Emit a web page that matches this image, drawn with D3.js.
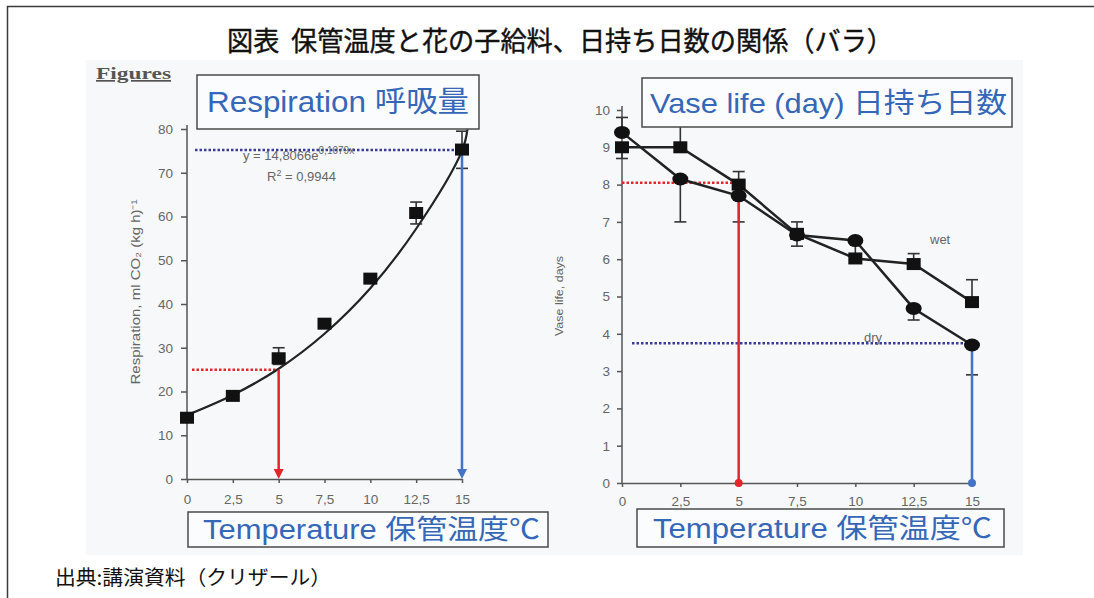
<!DOCTYPE html>
<html><head><meta charset="utf-8">
<script src="https://cdn.jsdelivr.net/npm/d3@7"></script>
<style>
html,body{margin:0;padding:0;background:#fff;}
svg{display:block;}
</style></head>
<body>
<svg id="c" width="1094" height="598"></svg>
<script>
// ---- data ----
const pageTitle = "図表\u00A0\u00A0保管温度と花の子給料、日持ち日数の関係（バラ）";
const sourceText = "出典:講演資料（クリザール）";
const xTicks = [0, 2.5, 5, 7.5, 10, 12.5, 15];
const respTicks = [0, 10, 20, 30, 40, 50, 60, 70, 80];
const vaseTicks = [0, 1, 2, 3, 4, 5, 6, 7, 8, 9, 10];

// Respiration (left)
const respX = [0, 2.5, 5, 7.5, 10, 12.5, 15];
const respY = [14, 19, 27.6, 35.5, 45.8, 60.8, 75.3];
const respErrLo = [null, null, 26.2, null, null, 58.3, 71];
const respErrHi = [null, null, 30.0, null, null, 63.3, 79.5];
// fitted trend line
const fitX = [0, 2.5, 5, 7.5, 10, 12.5, 15, 15.3];
const fitY = [14.6, 19.2, 25.2, 33.2, 43.6, 57.2, 75.0, 80];
const respRefLow = {x: 5, y: 25};
const respRefHigh = {x: 15, y: 75.2};

// Vase life (right)
const wetX = [0, 2.5, 5, 7.5, 10, 12.5, 15];
const wetY = [9, 9, 8, 6.68, 6.02, 5.87, 4.85];
const wetErrLo = [8.7, null, null, 6.35, null, null, null];
const wetErrHi = [null, 9.65, 8.35, 7.0, null, 6.15, 5.45];
const dryX = [0, 2.5, 5, 7.5, 10, 12.5, 15];
const dryY = [9.4, 8.15, 7.7, 6.65, 6.5, 4.68, 3.7];
const dryErrLo = [null, 7.0, 7.0, null, 6.1, 4.37, 2.9];
const dryErrHi = [9.8, null, null, null, null, null, null];
const vaseRefLow = {x: 5, y: 8.05};
const vaseRefHigh = {x: 15, y: 3.75};

// ---- drawing ----
const svg = d3.select("#c");
const fmt = d => String(d).replace(".", ",");
const LAT = "'Liberation Sans', Arial, sans-serif";
const JP = "'Liberation Sans', 'Noto Sans CJK JP', sans-serif";
const BLUE_T = "#3567b8", RED = "#e3262b", BLUE = "#4472c4", NAVY = "#3b3b9c";

// outer frame
svg.append("rect").attr("x", 7.5).attr("y", 6.5).attr("width", 1200).attr("height", 700)
  .attr("fill", "none").attr("stroke", "#3a3a3a").attr("stroke-width", 1.5);
// embedded picture background
svg.append("rect").attr("x", 86).attr("y", 60).attr("width", 937).attr("height", 495).attr("fill", "#f7f8f9");

// title
svg.append("text").attr("x", 227).attr("y", 51).text(pageTitle)
  .attr("font-family", "'Noto Sans CJK JP', sans-serif").attr("font-size", 27).attr("font-weight", 400)
  .attr("fill", "#111").attr("stroke", "#111").attr("stroke-width", 0.4)
  .attr("textLength", 666).attr("lengthAdjust", "spacingAndGlyphs");
// source
svg.append("text").attr("x", 55).attr("y", 585).text(sourceText)
  .attr("font-family", "'Noto Sans CJK JP', sans-serif").attr("font-size", 20)
  .attr("fill", "#111").attr("textLength", 276).attr("lengthAdjust", "spacingAndGlyphs");
// "Figures"
svg.append("text").attr("x", 96).attr("y", 79).text("Figures")
  .attr("font-family", "'Liberation Serif', serif").attr("font-size", 17).attr("font-weight", "bold")
  .attr("fill", "#555").attr("text-decoration", "underline")
  .attr("textLength", 75).attr("lengthAdjust", "spacingAndGlyphs");

function box(x, y, w, h, label, fs, tx, tl) {
  svg.append("rect").attr("x", x).attr("y", y).attr("width", w).attr("height", h)
    .attr("fill", "#fbfcfd").attr("stroke", "#4a4a4a").attr("stroke-width", 1.5);
  svg.append("text").attr("x", tx).attr("y", y + h / 2).attr("dy", "0.36em").text(label)
    .attr("font-family", JP).attr("font-size", fs).attr("fill", BLUE_T)
    .attr("textLength", tl).attr("lengthAdjust", "spacingAndGlyphs");
}

function styleAxis(g) {
  g.selectAll("path,line").attr("stroke", "#555").attr("stroke-width", 1.5);
  g.selectAll("text").attr("fill", "#666").attr("font-family", LAT).attr("font-size", 13.5);
}

function errBars(g, xs, lo, hi, ys, xS, yS) {
  xs.forEach((x, i) => {
    const segs = [];
    if (lo[i] != null) segs.push(lo[i]);
    if (hi[i] != null) segs.push(hi[i]);
    segs.forEach(v => {
      g.append("line").attr("x1", xS(x)).attr("x2", xS(x)).attr("y1", yS(ys[i])).attr("y2", yS(v))
        .attr("stroke", "#333").attr("stroke-width", 1.6);
      g.append("line").attr("x1", xS(x) - 6).attr("x2", xS(x) + 6).attr("y1", yS(v)).attr("y2", yS(v))
        .attr("stroke", "#333").attr("stroke-width", 1.6);
    });
  });
}

// ===== LEFT: Respiration =====
const xL = d3.scaleLinear([0, 15], [187, 462]);
const yL = d3.scaleLinear([0, 80], [479, 129]);
const gL = svg.append("g");
box(197, 75, 282, 54, "Respiration  呼吸量", 29, 207, 262);

gL.append("g").attr("transform", "translate(187,0)")
  .call(d3.axisLeft(yL).tickValues(respTicks).tickSize(6).tickSizeOuter(0).tickPadding(8))
  .call(styleAxis).select(".domain").attr("d", `M0,${yL(0)}V${yL(80) - 4}`);
gL.append("g").attr("transform", `translate(0,${yL(0)})`)
  .call(d3.axisBottom(xL).tickValues(xTicks).tickFormat(fmt).tickSize(4).tickSizeOuter(0).tickPadding(11))
  .call(styleAxis);

gL.append("text").attr("transform", "translate(140,292) rotate(-90)").attr("text-anchor", "middle")
  .attr("font-family", LAT).attr("font-size", 12).attr("fill", "#666")
  .attr("textLength", 185).attr("lengthAdjust", "spacingAndGlyphs")
  .text("Respiration, ml CO₂ (kg h)⁻¹");

// reference lines
gL.append("line").attr("x1", xL(0) + 5).attr("x2", xL(respRefLow.x)).attr("y1", yL(respRefLow.y)).attr("y2", yL(respRefLow.y))
  .attr("stroke", RED).attr("stroke-width", 2.5).attr("stroke-dasharray", "2.5,2");
gL.append("line").attr("x1", xL(0) + 8).attr("x2", xL(respRefHigh.x) + 6).attr("y1", yL(respRefHigh.y)).attr("y2", yL(respRefHigh.y))
  .attr("stroke", NAVY).attr("stroke-width", 2.5).attr("stroke-dasharray", "2.5,2");

// equation
const eq = gL.append("text").attr("x", 243).attr("y", 160).attr("font-family", LAT).attr("font-size", 13).attr("fill", "#666");
eq.append("tspan").text("y = 14,8066e");
eq.append("tspan").attr("dy", -6).attr("font-size", 10).text("0,1079x");
const r2 = gL.append("text").attr("x", 267).attr("y", 181).attr("font-family", LAT).attr("font-size", 13).attr("fill", "#666");
r2.append("tspan").text("R");
r2.append("tspan").attr("dy", -5).attr("font-size", 9).text("2");
r2.append("tspan").attr("dy", 5).text(" = 0,9944");

// fit curve
const fitData = fitX.map((x, i) => [x, fitY[i]]);
gL.append("path").datum(fitData)
  .attr("d", d3.line().x(d => xL(d[0])).y(d => yL(d[1])).curve(d3.curveCatmullRom))
  .attr("fill", "none").attr("stroke", "#222").attr("stroke-width", 2.2);

errBars(gL, respX, respErrLo, respErrHi, respY, xL, yL);

// vertical arrows
function arrow(g, x, y0, y1, color, tri) {
  g.append("line").attr("x1", x).attr("x2", x).attr("y1", y0).attr("y2", tri ? y1 - 8 : y1)
    .attr("stroke", color).attr("stroke-width", 2.5);
  if (tri) {
    g.append("path").attr("d", `M${x - 5},${y1 - 10}L${x + 5},${y1 - 10}L${x},${y1}Z`).attr("fill", color);
  } else {
    g.append("circle").attr("cx", x).attr("cy", y1).attr("r", 4).attr("fill", color);
  }
}
arrow(gL, xL(respRefLow.x), yL(respRefLow.y), yL(0), RED, true);
arrow(gL, xL(respRefHigh.x), yL(respRefHigh.y), yL(0), BLUE, true);

// markers
gL.selectAll("rect.m").data(respX.map((x, i) => [x, respY[i]])).join("rect").attr("class", "m")
  .attr("x", d => xL(d[0]) - 7).attr("y", d => yL(d[1]) - 6).attr("width", 14).attr("height", 12).attr("fill", "#111");

box(188, 512, 360, 35, "Temperature 保管温度℃", 27, 203, 337);

// ===== RIGHT: Vase life =====
const xR = d3.scaleLinear([0, 15], [622, 972]);
const yR = d3.scaleLinear([0, 10], [483, 110]);
const gR = svg.append("g");

gR.append("g").attr("transform", "translate(622,0)")
  .call(d3.axisLeft(yR).tickValues(vaseTicks).tickSize(5).tickSizeOuter(0).tickPadding(7))
  .call(styleAxis).select(".domain").attr("d", `M0,${yR(0)}V${yR(10) - 4}`);
gR.append("g").attr("transform", `translate(0,${yR(0)})`)
  .call(d3.axisBottom(xR).tickValues(xTicks).tickFormat(fmt).tickSize(4).tickSizeOuter(0).tickPadding(9))
  .call(styleAxis);

gR.append("text").attr("transform", "translate(563,296) rotate(-90)").attr("text-anchor", "middle")
  .attr("font-family", LAT).attr("font-size", 11).attr("fill", "#666")
  .attr("textLength", 80).attr("lengthAdjust", "spacingAndGlyphs").text("Vase life, days");

gR.append("line").attr("x1", xR(0)).attr("x2", xR(vaseRefLow.x)).attr("y1", yR(vaseRefLow.y)).attr("y2", yR(vaseRefLow.y))
  .attr("stroke", RED).attr("stroke-width", 2.5).attr("stroke-dasharray", "2.5,2");
gR.append("line").attr("x1", xR(0) + 10).attr("x2", xR(vaseRefHigh.x)).attr("y1", yR(vaseRefHigh.y)).attr("y2", yR(vaseRefHigh.y))
  .attr("stroke", NAVY).attr("stroke-width", 2.5).attr("stroke-dasharray", "2.5,2");

errBars(gR, wetX, wetErrLo, wetErrHi, wetY, xR, yR);
errBars(gR, dryX, dryErrLo, dryErrHi, dryY, xR, yR);

const ln = d3.line().x(d => xR(d[0])).y(d => yR(d[1]));
const wetData = wetX.map((x, i) => [x, wetY[i]]);
const dryData = dryX.map((x, i) => [x, dryY[i]]);
gR.append("path").datum(wetData).attr("d", ln).attr("fill", "none").attr("stroke", "#222").attr("stroke-width", 2.5);
gR.append("path").datum(dryData).attr("d", ln).attr("fill", "none").attr("stroke", "#222").attr("stroke-width", 2.5);

arrow(gR, xR(vaseRefLow.x), yR(vaseRefLow.y), yR(0), RED, false);
arrow(gR, xR(vaseRefHigh.x), yR(vaseRefHigh.y), yR(0), BLUE, false);

gR.selectAll("rect.w").data(wetData).join("rect").attr("class", "w")
  .attr("x", d => xR(d[0]) - 7).attr("y", d => yR(d[1]) - 6).attr("width", 14).attr("height", 12).attr("fill", "#111");
gR.selectAll("ellipse.d").data(dryData).join("ellipse").attr("class", "d")
  .attr("cx", d => xR(d[0])).attr("cy", d => yR(d[1])).attr("rx", 8).attr("ry", 6.5).attr("fill", "#111");

gR.append("text").attr("x", 930).attr("y", 244).attr("font-family", LAT).attr("font-size", 13).attr("fill", "#666").text("wet");
gR.append("text").attr("x", 864).attr("y", 342).attr("font-family", LAT).attr("font-size", 13).attr("fill", "#666").text("dry");

box(642, 78, 370, 49, "Vase life (day)  日持ち日数", 28, 650, 357);
box(637, 509, 367, 38, "Temperature  保管温度℃", 27, 653, 339);
</script>
</body></html>
